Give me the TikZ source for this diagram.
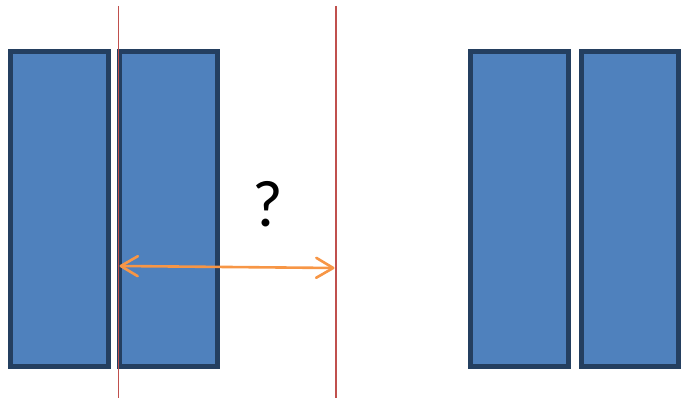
\documentclass[tikz,border=0pt]{standalone}
\usepackage{fontspec}
\setmainfont{Carlito}
\usetikzlibrary{arrows.meta}
\definecolor{boxfill}{HTML}{4F81BD}
\definecolor{boxline}{HTML}{243F60}
\definecolor{guide}{HTML}{C0504D}
\definecolor{gap}{HTML}{F79646}
\begin{document}
\begin{tikzpicture}[x=1pt,y=-1pt,
  bar/.style={fill=boxfill,draw=boxline,line width=5pt,inner sep=0pt,outer sep=0pt,anchor=north west,minimum height=315pt},
  guideline/.style={draw=guide,line width=1.5pt},
  gaparrow/.style={draw=gap,line width=2.6pt,line cap=round,
    {Straight Barb[length=17pt,width=20pt,line width=2.6pt,round]}-{Straight Barb[length=17pt,width=20pt,line width=2.6pt,round]}}]
\useasboundingbox (0,0) rectangle (681,398);
\node[bar,minimum width=98.5pt] (b1) at (10,52) {};
\node[bar,minimum width=98pt] (b2) at (119,52) {};
\node[bar,minimum width=98.5pt] (b3) at (470,52) {};
\node[bar,minimum width=97pt] (b4) at (581,52) {};
\coordinate (g1t) at (118.5,6);
\coordinate (g1b) at (118.5,398);
\coordinate (g2t) at (336,6);
\coordinate (g2b) at (336,398);
\draw[guideline] (g1t) -- (g1b);
\draw[guideline] (g2t) -- (g2b);
\coordinate (a1) at (119.5,266);
\coordinate (a2) at (334.5,268);
\draw[gaparrow] (a1) -- (a2);
\node[font=\fontsize{66}{66}\selectfont,inner sep=0pt] (q) at (268,204) {?};
\end{tikzpicture}
\end{document}
